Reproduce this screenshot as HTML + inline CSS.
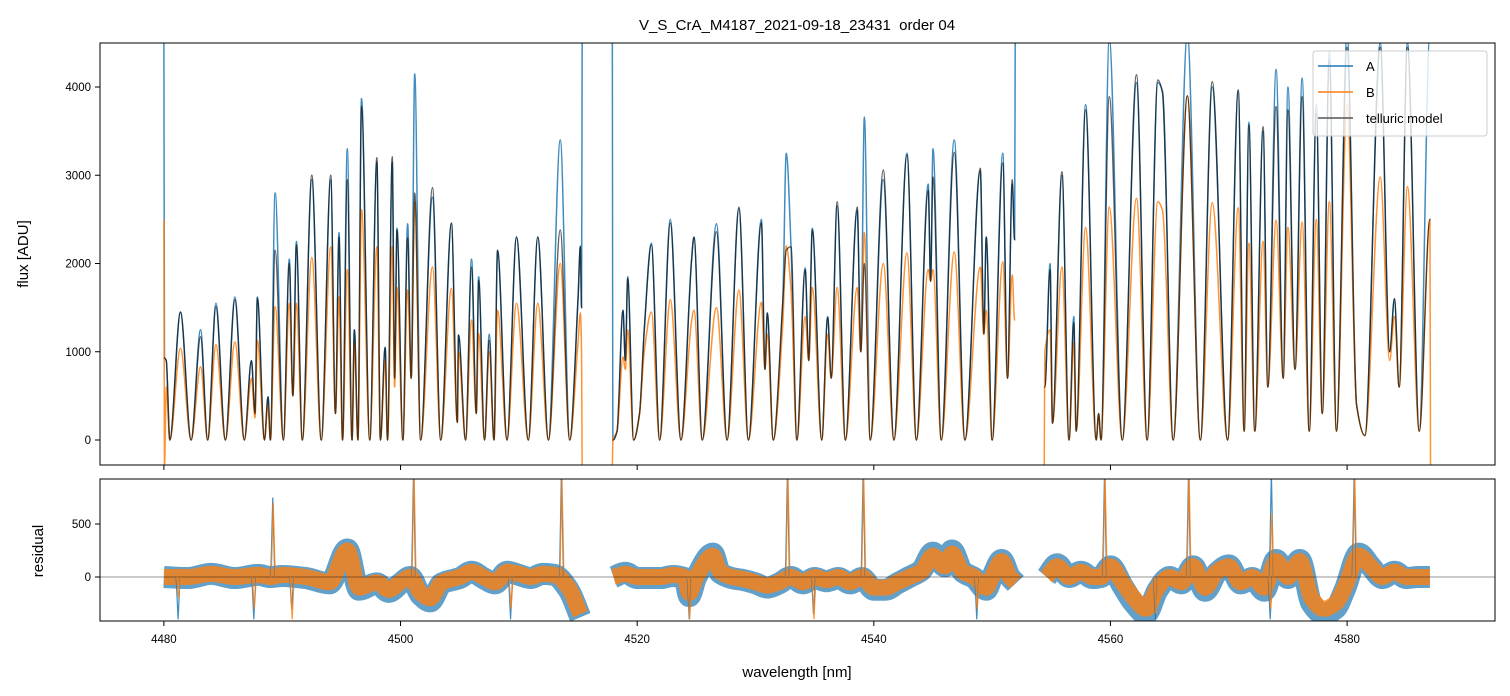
<!DOCTYPE html>
<html><head><meta charset="utf-8"><style>
html,body{margin:0;padding:0;background:#fff;}
svg{display:block;font-family:"Liberation Sans","DejaVu Sans",sans-serif;}
</style></head><body>
<svg id="chart" width="1510" height="696" viewBox="0 0 1510 696" xmlns="http://www.w3.org/2000/svg">
<defs>
<clipPath id="clipTop"><rect x="100" y="43" width="1395" height="422"/></clipPath>
<clipPath id="clipBot"><rect x="100" y="479" width="1395" height="142"/></clipPath>
</defs>
<rect x="0" y="0" width="1510" height="696" fill="#fff"/>
<text x="797" y="30" text-anchor="middle" font-size="15" fill="#000" style="white-space:pre" xml:space="preserve">V_S_CrA_M4187_2021-09-18_23431  order 04</text>
<g id="topMarks" clip-path="url(#clipTop)"></g>
<g id="botMarks" clip-path="url(#clipBot)"></g>
<rect x="100" y="43" width="1395" height="422" fill="none" stroke="#000" stroke-width="1"/>
<rect x="100" y="479" width="1395" height="142" fill="none" stroke="#000" stroke-width="1"/>
<g id="axes" font-size="11.5" fill="#000"></g>
<text x="0" y="0" transform="translate(28,254) rotate(-90)" text-anchor="middle" font-size="15">flux [ADU]</text>
<text x="0" y="0" transform="translate(43,551) rotate(-90)" text-anchor="middle" font-size="15">residual</text>
<text x="797" y="677" text-anchor="middle" font-size="15">wavelength [nm]</text>
<g>
<rect x="1313" y="51" width="174" height="85" rx="3" fill="#fff" fill-opacity="0.8" stroke="#ccc" stroke-width="1"/>
<line x1="1318" y1="66" x2="1353" y2="66" stroke="#1f77b4" stroke-width="1.5"/>
<text x="1366" y="71" font-size="13">A</text>
<line x1="1318" y1="92" x2="1353" y2="92" stroke="#ff7f0e" stroke-width="1.5"/>
<text x="1366" y="97" font-size="13">B</text>
<line x1="1318" y1="118" x2="1353" y2="118" stroke="#555" stroke-width="1.5"/>
<text x="1366" y="123" font-size="13">telluric model</text>
</g>
</svg>
<script>
// ---- data (wavelength knots in nm, flux in ADU) ----
const wl = [4480.0,4480.05,4480.2,4480.5,4481.4,4482.3,4483.1,4483.7,4484.4,4485.2,4486.0,4486.8,4487.4,4487.7,4487.9,4488.5,4488.8,4489.0,4489.4,4490.1,4490.6,4490.9,4491.2,4491.7,4492.5,4493.3,4494.1,4494.5,4494.8,4495.1,4495.5,4495.9,4496.1,4496.4,4496.7,4497.4,4498.0,4498.3,4498.7,4498.9,4499.3,4499.5,4499.7,4500.2,4500.6,4500.9,4501.2,4501.7,4502.7,4503.4,4504.3,4504.8,4504.9,4505.5,4506.0,4506.4,4506.6,4507.1,4507.5,4507.9,4508.2,4509.0,4509.8,4510.8,4511.6,4512.5,4513.5,4514.3,4515.0,4515.2,4515.3,4515.35,
4517.9,4517.95,4518.3,4518.8,4519.0,4519.2,4519.7,4520.2,4520.6,4521.2,4521.9,4522.8,4523.7,4524.6,4524.8,4525.5,4526.7,4527.6,4528.6,4529.4,4530.5,4530.8,4531.0,4531.5,4532.3,4532.6,4533.0,4533.5,4534.2,4534.5,4534.8,4535.6,4536.1,4536.4,4536.9,4537.6,4538.6,4538.9,4539.2,4539.7,4540.8,4541.7,4542.8,4543.6,4544.6,4544.8,4545.0,4545.7,4546.8,4547.7,4549.0,4549.3,4549.5,4550.0,4550.9,4551.3,4551.7,4551.9,4551.95,
4554.4,4554.45,4554.9,4555.1,4555.9,4556.5,4556.9,4557.1,4557.9,4558.8,4559.0,4559.2,4559.9,4561.0,4562.2,4563.1,4564.0,4564.4,4565.3,4566.5,4567.6,4568.6,4569.9,4570.8,4571.3,4571.7,4572.2,4572.9,4573.3,4574.0,4574.6,4575.0,4575.6,4576.2,4576.8,4577.4,4577.9,4578.5,4579.1,4580.0,4580.8,4581.5,4582.8,4583.6,4584.0,4584.4,4585.1,4586.1,4587.0,4587.05];
const model = [930,930,900,0,1450,0,1170,0,1510,0,1590,0,900,300,1610,0,490,0,2150,0,2000,500,2210,0,3000,0,3000,300,2300,0,2950,0,1250,0,3780,0,3200,0,1050,0,3210,700,2380,0,2290,700,2800,0,2860,0,2460,200,1190,0,1960,300,1810,0,1130,0,2150,0,2300,0,2300,0,2380,0,1600,2190,1500,1500,
0,0,100,1470,900,1830,0,300,1250,2210,0,2460,0,2040,2300,0,2360,0,2640,0,2460,800,1440,0,1550,2150,2190,0,1930,900,2380,0,1390,700,2700,0,2640,1000,2000,0,3060,0,3230,0,2830,1800,2980,0,3260,0,3080,1200,2300,0,3140,700,2950,2270,2270,
600,600,1930,190,3040,0,1330,100,3740,0,300,0,3890,0,4140,0,4080,3930,0,3900,0,4060,0,3970,100,3570,100,3550,600,3780,700,3740,800,3890,100,3700,300,4300,100,4450,400,50,4450,1000,1600,600,4450,100,2500,2500];
const seriesA = [4600,930,900,0,1450,0,1250,0,1550,0,1620,0,900,300,1620,0,490,0,2800,0,2050,500,2250,0,2950,0,2950,300,2350,0,3300,0,1250,0,3870,0,3150,0,1050,0,3150,700,2400,0,2450,700,4150,0,2750,0,2450,200,1190,0,2050,300,1850,0,1200,0,2150,0,2300,0,2300,0,3400,0,1600,2200,1500,4600,
4600,0,100,1470,900,1850,0,300,1250,2230,0,2500,0,2050,2300,0,2450,0,2620,0,2500,800,1440,0,1550,3250,2200,0,1950,900,2400,0,1400,700,2650,0,2600,1000,3660,0,2950,0,3250,0,2900,1800,3300,0,3400,0,3050,1200,2300,0,3250,700,2900,2270,4600,
600,600,2000,190,3000,0,1400,100,3800,0,300,0,4550,0,4050,0,4050,3950,0,4600,0,4000,0,3950,100,3600,100,3500,600,4200,700,4000,800,4100,100,3800,300,4400,100,4600,400,50,4500,1000,1600,600,4500,100,4600,4600];
const seriesB = [2500,-300,600,0,1040,0,830,0,1080,0,1110,0,700,250,1130,0,400,0,1510,0,1550,500,1550,0,2070,0,2190,300,1620,0,1930,0,1100,0,2610,0,2190,0,900,0,2190,600,1730,0,1700,700,2700,0,1960,0,1720,200,1000,0,1360,300,1210,0,1000,0,1470,0,1550,0,1550,0,2000,0,1100,1440,1000,-400,
-300,0,100,940,800,1250,0,300,1000,1450,0,1590,0,1350,1470,0,1500,0,1700,0,1560,800,1200,0,1300,2200,1700,0,1400,900,1730,0,1200,700,1730,0,1730,1000,2350,0,2000,0,2120,0,1930,1800,1930,0,2130,0,1960,1200,1470,0,2020,700,1870,1360,1360,
-400,1000,1250,190,1960,0,1100,100,2410,0,300,0,2640,0,2740,0,2700,2600,0,3900,0,2690,0,2630,100,2230,100,2250,600,2490,700,2410,800,2470,100,2500,300,2700,100,3800,400,50,2980,900,1400,600,2870,100,2500,-400];

// residual: slowly varying level of the noisy residual, and narrow spikes
const residWl = [4480.0,4482,4484,4486,4488,4489,4490,4492,4494,4495.5,4496.5,4498,4499,4500,4500.8,4501.7,4502.5,4503.5,4505,4506,4507,4508,4509,4510,4511,4512,4513,4514.2,4515.2,
4518,4519,4520,4522,4523,4524,4524.4,4525,4526.4,4527,4528,4529,4530,4531,4532,4533,4534,4535,4536,4537,4538,4539,4540,4541,4542,4543,4544,4545,4546,4546.6,4547.5,4548.5,4549.5,4550,4550.8,4551.5,4552,
4554.6,4555.5,4556.5,4557.5,4558.5,4559.2,4560,4561,4562,4563,4564,4565,4566,4567,4568,4569,4570,4571,4572,4573,4574,4575,4576,4577,4578,4579,4579.8,4581,4582,4583,4584,4585,4586,4587];
const residB = [0,0,30,0,20,0,20,0,-50,250,-100,-50,-120,-50,0,-150,-200,-50,0,50,0,-50,50,30,0,30,20,-100,-350,
0,30,0,0,20,0,-150,0,200,50,0,-20,-50,-80,-50,0,-50,0,-30,0,-50,0,-100,-100,-50,0,50,200,100,220,50,0,-100,0,150,0,-50,
0,100,0,50,0,0,100,-50,-200,-300,-100,0,-50,100,-100,50,100,-50,0,-100,150,0,150,-200,-300,-250,-100,200,100,0,50,0,0,0];
const residA = [0,-10,30,-10,20,0,10,-10,-60,260,-120,-60,-140,-60,0,-170,-230,-60,-10,50,-10,-60,50,20,-10,30,20,-120,-380,
0,40,-10,-10,10,-10,-180,0,220,40,-10,-30,-60,-100,-60,0,-60,-10,-40,-10,-60,-10,-120,-120,-60,0,60,230,100,250,50,-10,-120,0,160,0,-60,
0,120,0,50,-10,0,100,-80,-250,-350,-120,0,-60,100,-130,40,110,-60,-10,-130,160,-10,160,-250,-350,-300,-120,220,100,-10,50,-10,0,0];
const spikeWl = [4481.2,4487.6,4489.2,4490.8,4501.1,4509.3,4513.6,4524.4,4532.7,4534.9,4539.1,4548.7,4559.5,4563.8,4566.6,4573.5,4573.6,4580.6];
const spikeA = [-400,-400,750,-300,1000,-400,1000,-400,1000,-350,1000,-400,1000,-400,1000,-400,1000,1000];
const spikeB = [-200,-300,700,-400,1000,-300,950,-400,1000,-400,1000,-300,1000,-350,1000,-300,600,1000];

const xTicks = [4480,4500,4520,4540,4560,4580];
const yTicksTop = [0,1000,2000,3000,4000];
const yTicksBot = [0,500];

// ---- scales ----
const X0=100,X1=1495,WMIN=4474.6,WMAX=4592.5;
const xS = w => X0 + (w-WMIN)/(WMAX-WMIN)*(X1-X0);
const yTop = v => 440 - v*0.08825;
const yBot = v => 577 - v*0.106;

const NS='http://www.w3.org/2000/svg';
function mk(tag, attrs, parent){const e=document.createElementNS(NS,tag);for(const k in attrs)e.setAttribute(k,attrs[k]);parent.appendChild(e);return e;}

function monotonePath(px, py){
  const n=px.length; if(n<2) return '';
  const d=[], m=new Array(n);
  for(let i=0;i<n-1;i++) d.push((py[i+1]-py[i])/(px[i+1]-px[i]));
  m[0]=d[0]; m[n-1]=d[n-2];
  for(let i=1;i<n-1;i++){ if(d[i-1]*d[i]<=0) m[i]=0; else { m[i]=2/(1/d[i-1]+1/d[i]); } }
  let s='M'+px[0].toFixed(2)+','+py[0].toFixed(2);
  for(let i=0;i<n-1;i++){
    const h=(px[i+1]-px[i])/3;
    s+='C'+(px[i]+h).toFixed(2)+','+(py[i]+m[i]*h).toFixed(2)+' '+(px[i+1]-h).toFixed(2)+','+(py[i+1]-m[i+1]*h).toFixed(2)+' '+px[i+1].toFixed(2)+','+py[i+1].toFixed(2);
  }
  return s;
}
function segPaths(ws, vs, ys, gap){
  let out='', px=[], py=[];
  for(let i=0;i<ws.length;i++){
    if(vs[i]===undefined || vs[i]===null) continue;
    if(px.length && ws[i]-ws[i-1]>gap){ out+=monotonePath(px,py); px=[];py=[]; }
    px.push(xS(ws[i])); py.push(ys(vs[i]));
  }
  return out+monotonePath(px,py);
}

const topG=document.getElementById('topMarks');
const botG=document.getElementById('botMarks');

let p;
p=mk('path',{d:segPaths(wl,seriesA,yTop,1.5),fill:'none',stroke:'#1f77b4','stroke-width':1.5,'stroke-opacity':0.85},topG);


p=mk('path',{d:segPaths(wl,seriesB,yTop,1.5),fill:'none',stroke:'#ff7f0e','stroke-width':1.5,'stroke-opacity':0.85},topG);


p=mk('path',{d:segPaths(wl,model,yTop,1.5),fill:'none',stroke:'#000','stroke-width':1.4,'stroke-opacity':0.62},topG);



p=mk('path',{d:segPaths(residWl,residA,yBot,2.5),fill:'none',stroke:'#1f77b4','stroke-width':22,'stroke-opacity':0.7,'stroke-linejoin':'round'},botG);


p=mk('path',{d:segPaths(residWl,residB,yBot,2.5),fill:'none',stroke:'#ff7f0e','stroke-width':16,'stroke-opacity':0.8,'stroke-linejoin':'round'},botG);


p=mk('line',{x1:100,x2:1495,y1:yBot(0),y2:yBot(0),stroke:'#000','stroke-width':0.7,'stroke-opacity':0.55},botG);


for(let i=0;i<spikeWl.length;i++){
  const x=xS(spikeWl[i]);
  let s=mk('path',{d:'M'+(x-2)+','+yBot(0)+'L'+x+','+yBot(spikeA[i])+'L'+(x+2)+','+yBot(0),fill:'none',stroke:'#1f77b4','stroke-width':1.2,'stroke-opacity':0.85},botG);
  
  
  s=mk('path',{d:'M'+(x-1.5)+','+yBot(0)+'L'+(x+0.5)+','+yBot(spikeB[i])+'L'+(x+2.5)+','+yBot(0),fill:'none',stroke:'#ff7f0e','stroke-width':1.2,'stroke-opacity':0.85},botG);
  
  
}

const ax=document.getElementById('axes');
xTicks.forEach(t=>{
  const x=xS(t);
  let e=mk('line',{x1:x,x2:x,y1:465,y2:470,stroke:'#000','stroke-width':1},ax);
  
  
  e=mk('line',{x1:x,x2:x,y1:621,y2:626,stroke:'#000','stroke-width':1},ax);
  
  
  e=mk('text',{x:x,y:643,'text-anchor':'middle'},ax); e.textContent=t;
  
  
});
yTicksTop.forEach(t=>{
  const y=yTop(t);
  let e=mk('line',{x1:95,x2:100,y1:y,y2:y,stroke:'#000','stroke-width':1},ax);
  
  
  e=mk('text',{x:91,y:y+4,'text-anchor':'end'},ax); e.textContent=t;
  
  
});
yTicksBot.forEach(t=>{
  const y=yBot(t);
  let e=mk('line',{x1:95,x2:100,y1:y,y2:y,stroke:'#000','stroke-width':1},ax);
  
  
  e=mk('text',{x:91,y:y+4,'text-anchor':'end'},ax); e.textContent=t;
  
  
});
</script>
</body></html>
